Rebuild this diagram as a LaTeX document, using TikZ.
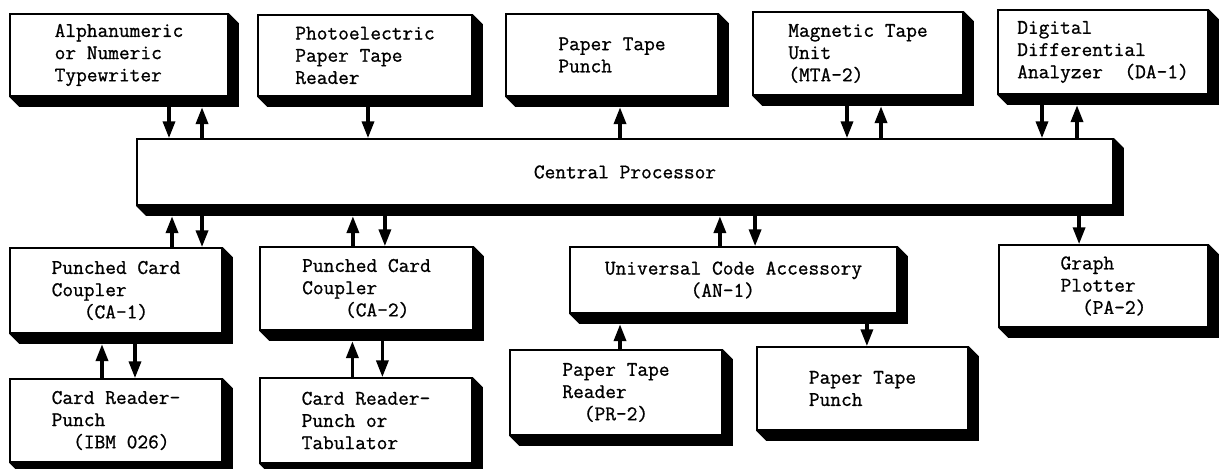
\documentclass[tikz,border=0pt]{standalone}
\usepackage{fontspec}
\usepackage{tikz}
\usetikzlibrary{arrows.meta, calc}

\newfontfamily\typer{lmmono12-regular.otf}[FakeBold=0.9]

\tikzset{
  unit/.style={draw, line width=1.2pt, fill=white, align=left, inner sep=0pt,
    minimum width=5.3cm, minimum height=2.075cm,
    font=\typer\fontsize{14.8}{15.8}\selectfont},
  flow/.style={-{Triangle[length=0.42cm, width=0.3cm]}, line width=2.4pt},
  intoshadow/.style={shorten >=0.26cm}
}

\begin{document}
\begin{tikzpicture}[x=0.025cm, y=-0.025cm]
  \useasboundingbox (0,0) rectangle (1220,468);

  % Input / output units on top
  \node[unit, minimum width=5.45cm, minimum height=2.05cm] (tw) at (119,55) {Alphanumeric\\or Numeric\\Typewriter};
  \node[unit, minimum width=5.35cm, minimum height=2.025cm] (ptr) at (365,55.5) {Photoelectric\\Paper Tape\\Reader};
  \node[unit, minimum height=2.05cm] (ptp) at (612,55) {Paper Tape\\Punch};
  \node[unit, minimum width=5.25cm] (mta) at (858,53.5) {Magnetic Tape\\Unit\\(MTA-2)};
  \node[unit, minimum width=5.25cm, minimum height=2.1cm] (dda) at (1103,52) {Digital\\Differential\\Analyzer\ \ (DA-1)};

  % The processor
  \node[unit, align=center, minimum width=24.4cm, minimum height=1.65cm] (cp) at (625,172) {Central Processor};

  % Units below
  \node[unit, minimum height=2.125cm] (ca1) at (116,290.5) {Punched Card\\Coupler\\\phantom{xxx}(CA-1)};
  \node[unit] (ibm) at (116,420.5) {Card Reader-\\Punch\\\phantom{xx}(IBM 026)};
  \node[unit, minimum width=5.325cm] (ca2) at (366.5,288.5) {Punched Card\\Coupler\\\phantom{xxxx}(CA-2)};
  \node[unit, minimum height=2.125cm] (tab) at (366,420.5) {Card Reader-\\Punch or\\Tabulator};
  \node[unit, minimum width=8.175cm, minimum height=1.65cm] (uca) at (733.5,280) {Universal Code Accessory\\\phantom{xxxxxxxx}(AN-1)};
  \node[unit, minimum height=2.125cm] (ptr2) at (616,392.5) {Paper Tape\\Reader\\\phantom{xx}(PR-2)};
  \node[unit, minimum width=5.275cm] (ptp2) at (862.5,388.5) {Paper Tape\\Punch};
  \node[unit, minimum width=5.225cm, minimum height=2.05cm] (plot) at (1103.5,286) {Graph\\Plotter\\\phantom{xx}(PA-2)};

  % Solid shadows
  \foreach \n in {tw, ptr, ptp, mta, dda, cp, ca1, ibm, ca2, tab, uca, ptr2, ptp2, plot}
    \fill (\n.north east) -- ++(10,10) -- ($(\n.south east)+(10,10)$)
      -- ($(\n.south west)+(10,10)$) -- (\n.south west) -- (\n.south east) -- cycle;

  % Top connections
  \draw[flow] ([xshift=1.25cm]tw.south) -- ([xshift=1.25cm]tw.south |- cp.north);
  \draw[flow, intoshadow] ([xshift=2.075cm]tw.south |- cp.north) -- ([xshift=2.075cm]tw.south);
  \draw[flow] ([xshift=0.075cm]ptr.south) -- ([xshift=0.075cm]ptr.south |- cp.north);
  \draw[flow, intoshadow] ([xshift=0.2cm]ptp.south |- cp.north) -- ([xshift=0.2cm]ptp.south);
  \draw[flow] ([xshift=-0.275cm]mta.south) -- ([xshift=-0.275cm]mta.south |- cp.north);
  \draw[flow, intoshadow] ([xshift=0.575cm]mta.south |- cp.north) -- ([xshift=0.575cm]mta.south);
  \draw[flow] ([xshift=-1.525cm]dda.south) -- ([xshift=-1.525cm]dda.south |- cp.north);
  \draw[flow, intoshadow] ([xshift=-0.65cm]dda.south |- cp.north) -- ([xshift=-0.65cm]dda.south);

  % Bottom connections
  \draw[flow, intoshadow] ([xshift=1.4cm]ca1.north) -- ([xshift=1.4cm]ca1.north |- cp.south);
  \draw[flow] ([xshift=2.15cm]ca1.north |- cp.south) -- ([xshift=2.15cm]ca1.north);
  \draw[flow, intoshadow] ([xshift=-0.35cm]ibm.north) -- ([xshift=-0.35cm]ibm.north |- ca1.south);
  \draw[flow] ([xshift=0.475cm]ibm.north |- ca1.south) -- ([xshift=0.475cm]ibm.north);
  \draw[flow, intoshadow] ([xshift=-0.34cm]ca2.north) -- ([xshift=-0.34cm]ca2.north |- cp.south);
  \draw[flow] ([xshift=0.46cm]ca2.north |- cp.south) -- ([xshift=0.46cm]ca2.north);
  \draw[flow, intoshadow] ([xshift=-0.34cm]tab.north) -- ([xshift=-0.34cm]tab.north |- ca2.south);
  \draw[flow] ([xshift=0.41cm]tab.north |- ca2.south) -- ([xshift=0.41cm]tab.north);
  \draw[flow, intoshadow] ([xshift=-0.34cm]uca.north) -- ([xshift=-0.34cm]uca.north |- cp.south);
  \draw[flow] ([xshift=0.54cm]uca.north |- cp.south) -- ([xshift=0.54cm]uca.north);
  \draw[flow, intoshadow] ([xshift=0.1cm]ptr2.north) -- ([xshift=0.1cm]ptr2.north |- uca.south);
  \draw[flow] ([xshift=0.11cm]ptp2.north |- uca.south) -- ([xshift=0.11cm]ptp2.north);
  \draw[flow] ([xshift=-0.61cm]plot.north |- cp.south) -- ([xshift=-0.61cm]plot.north);
\end{tikzpicture}
\end{document}
